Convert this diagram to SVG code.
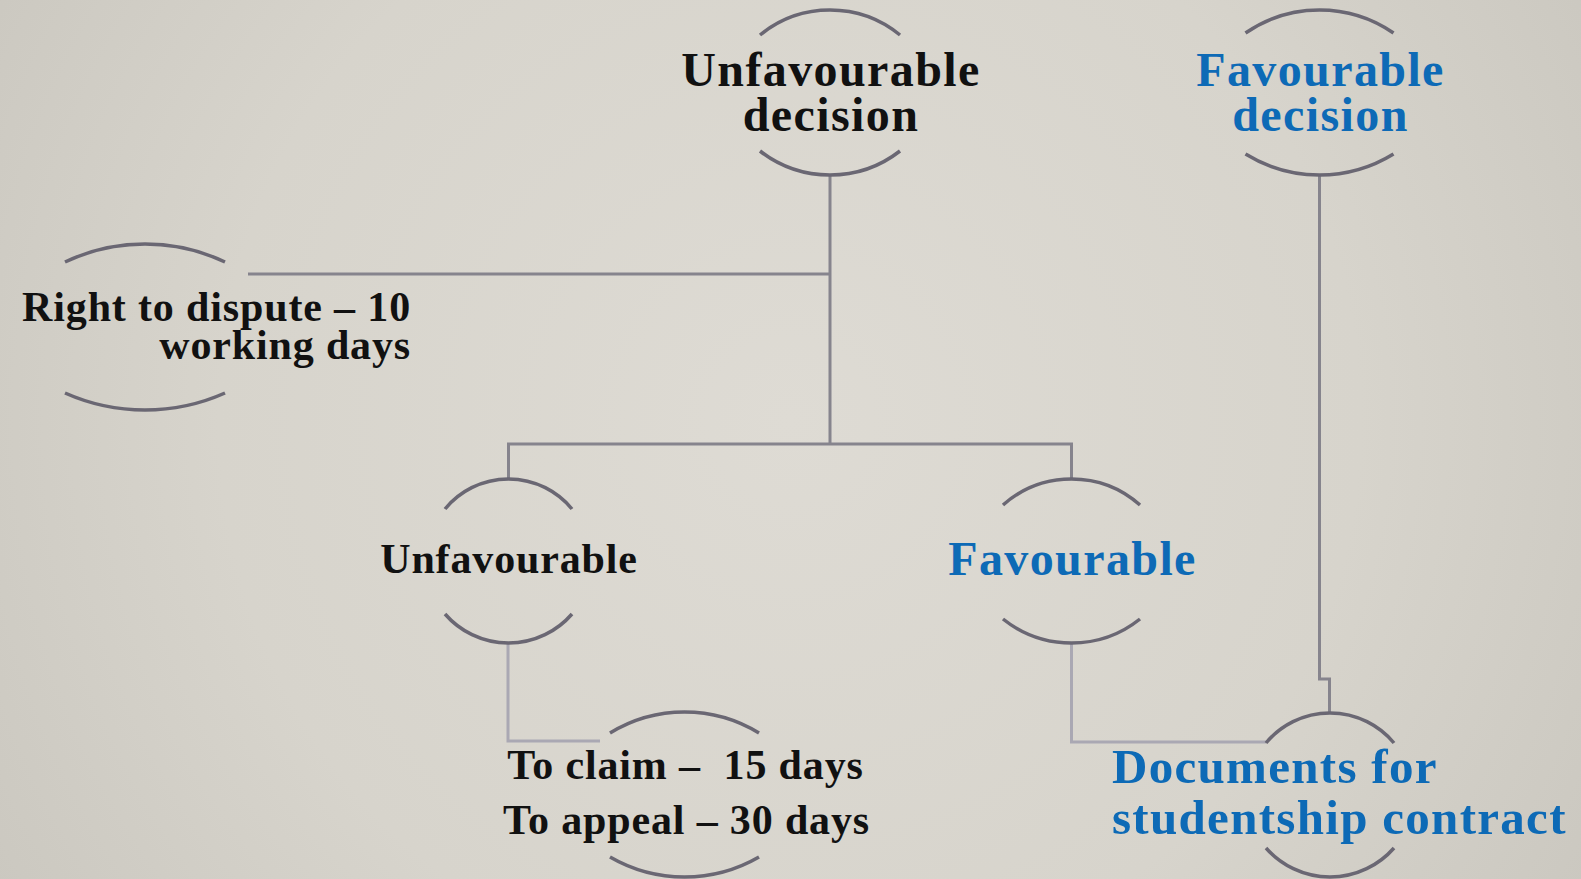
<svg xmlns="http://www.w3.org/2000/svg" width="1581" height="879" viewBox="0 0 1581 879">
  <defs>
    <radialGradient id="bg" cx="790" cy="420" r="950" gradientUnits="userSpaceOnUse">
      <stop offset="0" stop-color="#DEDBD4"/>
      <stop offset="0.6" stop-color="#D7D4CC"/>
      <stop offset="1" stop-color="#CAC7BF"/>
    </radialGradient>
  </defs>
  <style>
    .arc { fill: none; stroke: #6A6773; stroke-width: 3.5; stroke-linecap: butt; }
    .conn { fill: none; stroke: #86848D; stroke-width: 3; }
    .conn-light { fill: none; stroke: #AAA8B3; stroke-width: 3; }
    .t { font-family: "Liberation Serif", "Times New Roman", serif; font-weight: bold; white-space: pre; }
    .big { font-size: 48px; letter-spacing: 1.4px; }
    .mid { font-size: 42px; letter-spacing: 0.85px; }
    .doc { font-size: 49px; letter-spacing: 1.3px; }
    .black { fill: #111111; }
    .blue { fill: #0D6AB6; }
  </style>
  <rect x="0" y="0" width="1581" height="879" fill="url(#bg)"/>

  <g id="connectors">
    <path class="conn" d="M830 175 V444"/>
    <path class="conn" d="M248 274 H830"/>
    <path class="conn" d="M508.5 479 V444 H1071.5 V479"/>
    <path class="conn" d="M1319.5 175 V679 H1329.5 V713"/>
    <path class="conn-light" d="M508 643 V741 H600"/>
    <path class="conn-light" d="M1071.5 643 V742 H1266"/>
  </g>

  <g id="node-unfavourable-decision">
    <path class="arc" d="M760 35 A110.5 110.5 0 0 1 900 35"/>
    <path class="arc" d="M760 151 A114 114 0 0 0 900 151"/>
    <text class="t big black" text-anchor="middle" x="831" y="86">Unfavourable</text>
    <text class="t big black" text-anchor="middle" x="831" y="131">decision</text>
  </g>

  <g id="node-favourable-decision">
    <path class="arc" d="M1245.5 33 A130.5 130.5 0 0 1 1393.5 33"/>
    <path class="arc" d="M1245.5 154 A141 141 0 0 0 1393.5 154"/>
    <text class="t big blue" text-anchor="middle" x="1320.5" y="86">Favourable</text>
    <text class="t big blue" text-anchor="middle" x="1320.5" y="131">decision</text>
  </g>

  <g id="node-right-to-dispute">
    <path class="arc" d="M65 262 A186.8 186.8 0 0 1 225 262"/>
    <path class="arc" d="M65 393 A196.7 196.7 0 0 0 225 393"/>
    <text class="t mid black" text-anchor="end" x="411" y="321">Right to dispute – 10</text>
    <text class="t mid black" text-anchor="end" x="411" y="359">working days</text>
  </g>

  <g id="node-unfavourable">
    <path class="arc" d="M445 509 A82.2 82.2 0 0 1 572 509"/>
    <path class="arc" d="M445 614 A84 84 0 0 0 572 614"/>
    <text class="t mid black" text-anchor="middle" x="509" y="573">Unfavourable</text>
  </g>

  <g id="node-favourable">
    <path class="arc" d="M1003 505 A103.2 103.2 0 0 1 1140 505"/>
    <path class="arc" d="M1003 619 A109.7 109.7 0 0 0 1140 619"/>
    <text class="t big blue" text-anchor="middle" x="1072.5" y="575">Favourable</text>
  </g>

  <g id="node-claim-appeal">
    <path class="arc" d="M610 733 A142.6 142.6 0 0 1 759 733"/>
    <path class="arc" d="M610 857 A148.8 148.8 0 0 0 759 857"/>
    <text class="t mid black" text-anchor="middle" x="685.5" y="779">To claim –  15 days</text>
    <text class="t mid black" text-anchor="middle" x="686.5" y="834">To appeal – 30 days</text>
  </g>

  <g id="node-documents">
    <path class="arc" d="M1266 743 A83.3 83.3 0 0 1 1394 743"/>
    <path class="arc" d="M1266 848 A85.1 85.1 0 0 0 1394 848"/>
    <text class="t doc blue" x="1112" y="783">Documents for</text>
    <text class="t doc blue" x="1112" y="834">studentship contract</text>
  </g>
</svg>
